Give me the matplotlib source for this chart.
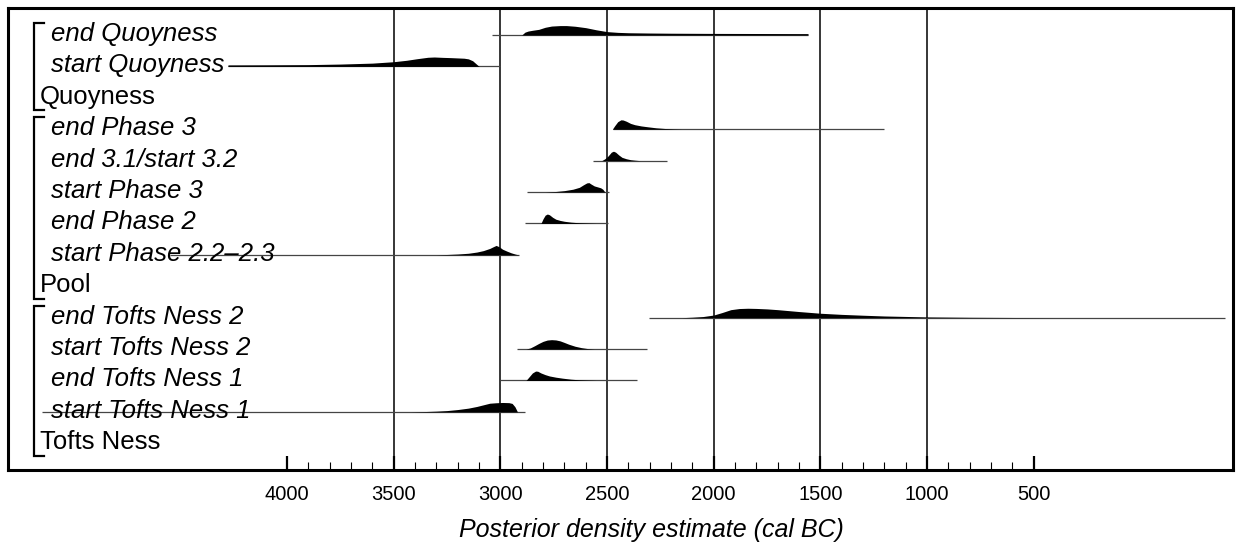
import matplotlib
matplotlib.use("Agg")
import matplotlib.pyplot as plt
import matplotlib.transforms as mtransforms

plt.rcParams['font.family'] = ['Liberation Sans', 'DejaVu Sans']

# ---------------- data ----------------
row_labels = ["end Quoyness", "start Quoyness", "Quoyness",
              "end Phase 3", "end 3.1/start 3.2", "start Phase 3", "end Phase 2",
              "start Phase 2.2\u20132.3", "Pool",
              "end Tofts Ness 2", "start Tofts Ness 2", "end Tofts Ness 1",
              "start Tofts Ness 1", "Tofts Ness"]
group_names = ["Quoyness", "Pool", "Tofts Ness"]
group_first = ["end Quoyness", "end Phase 3", "end Tofts Ness 2"]

major_ticks = [4000, 3500, 3000, 2500, 2000, 1500, 1000, 500]
grid_years = [3500, 3000, 2500, 2000, 1500, 1000]
xlabel = "Posterior density estimate (cal BC)"

end_quoyness_range = [3040, 1558]
end_quoyness_years = [2900, 2885, 2870, 2850, 2820, 2790, 2760, 2720, 2690, 2650, 2600, 2550,
                      2500, 2450, 2400, 2300, 2200, 2000, 1800, 1600, 1558]
end_quoyness_dens = [0, 0.3, 0.42, 0.5, 0.6, 0.82, 0.95, 1.0, 1.0, 0.93, 0.78, 0.55,
                     0.36, 0.28, 0.24, 0.21, 0.19, 0.17, 0.16, 0.15, 0.15]

start_quoyness_range = [4277, 3000]
start_quoyness_years = [4277, 4100, 3900, 3750, 3600, 3500, 3440, 3390, 3340, 3310, 3270,
                        3230, 3200, 3170, 3150, 3130, 3115, 3100]
start_quoyness_dens = [0.16, 0.17, 0.19, 0.25, 0.35, 0.5, 0.65, 0.82, 0.97, 1.0, 0.96,
                       0.93, 0.9, 0.87, 0.8, 0.6, 0.3, 0]

end_phase3_range = [2472, 1202]
end_phase3_years = [2475, 2465, 2450, 2435, 2425, 2410, 2390, 2370, 2340, 2310, 2270, 2230, 2190, 2150]
end_phase3_dens = [0, 0.35, 0.8, 1.0, 0.98, 0.85, 0.62, 0.48, 0.35, 0.26, 0.15, 0.08, 0.03, 0]

end31_start32_range = [2567, 2219]
end31_start32_years = [2525, 2510, 2495, 2480, 2470, 2460, 2445, 2430, 2410, 2390, 2370, 2345]
end31_start32_dens = [0, 0.2, 0.5, 0.9, 1.0, 0.9, 0.6, 0.35, 0.2, 0.1, 0.05, 0]

start_phase3_range = [2875, 2491]
start_phase3_years = [2790, 2740, 2700, 2660, 2630, 2610, 2595, 2585, 2575, 2560, 2545, 2530, 2520, 2510]
start_phase3_dens = [0, 0.06, 0.15, 0.3, 0.5, 0.78, 0.97, 1.0, 0.85, 0.65, 0.55, 0.45, 0.3, 0]

end_phase2_range = [2884, 2495]
end_phase2_years = [2810, 2800, 2790, 2780, 2770, 2755, 2740, 2720, 2700, 2670, 2630, 2590, 2550]
end_phase2_dens = [0, 0.5, 0.88, 1.0, 0.92, 0.65, 0.45, 0.32, 0.23, 0.14, 0.07, 0.03, 0]

start_phase22_range = [4550, 2912]
start_phase22_years = [3300, 3250, 3200, 3150, 3110, 3080, 3050, 3030, 3020, 3005, 2990, 2970, 2950, 2930, 2915]
start_phase22_dens = [0, 0.04, 0.09, 0.17, 0.3, 0.45, 0.68, 0.9, 1.0, 0.85, 0.6, 0.4, 0.22, 0.08, 0]

end_tn2_range = [2303, -397]
end_tn2_years = [2150, 2100, 2050, 2000, 1960, 1920, 1880, 1840, 1800, 1750, 1700, 1600, 1500,
                 1400, 1300, 1200, 1100, 1000, 800, 600, 400]
end_tn2_dens = [0, 0.05, 0.12, 0.28, 0.55, 0.85, 0.97, 1.0, 0.98, 0.93, 0.85, 0.65, 0.47,
                0.35, 0.26, 0.18, 0.13, 0.08, 0.04, 0.02, 0]

start_tn2_range = [2922, 2313]
start_tn2_years = [2880, 2860, 2840, 2820, 2800, 2780, 2760, 2740, 2720, 2700, 2680, 2650, 2620, 2590, 2560]
start_tn2_dens = [0, 0.12, 0.35, 0.6, 0.82, 0.96, 1.0, 0.97, 0.87, 0.7, 0.52, 0.3, 0.15, 0.05, 0]

end_tn1_range = [3001, 2359]
end_tn1_years = [2880, 2865, 2850, 2835, 2825, 2810, 2790, 2770, 2740, 2710, 2670, 2630, 2590, 2550]
end_tn1_dens = [0, 0.4, 0.8, 1.0, 0.98, 0.8, 0.62, 0.48, 0.35, 0.25, 0.14, 0.07, 0.03, 0]

start_tn1_range = [5148, 2884]
start_tn1_years = [3420, 3350, 3300, 3250, 3200, 3150, 3110, 3080, 3050, 3020, 2990, 2960, 2945, 2932, 2920]
start_tn1_dens = [0, 0.04, 0.08, 0.14, 0.25, 0.4, 0.58, 0.75, 0.92, 0.97, 1.0, 0.98, 0.9, 0.55, 0]

distributions = {
    "end Quoyness": (end_quoyness_range, end_quoyness_years, end_quoyness_dens),
    "start Quoyness": (start_quoyness_range, start_quoyness_years, start_quoyness_dens),
    "end Phase 3": (end_phase3_range, end_phase3_years, end_phase3_dens),
    "end 3.1/start 3.2": (end31_start32_range, end31_start32_years, end31_start32_dens),
    "start Phase 3": (start_phase3_range, start_phase3_years, start_phase3_dens),
    "end Phase 2": (end_phase2_range, end_phase2_years, end_phase2_dens),
    "start Phase 2.2\u20132.3": (start_phase22_range, start_phase22_years, start_phase22_dens),
    "end Tofts Ness 2": (end_tn2_range, end_tn2_years, end_tn2_dens),
    "start Tofts Ness 2": (start_tn2_range, start_tn2_years, start_tn2_dens),
    "end Tofts Ness 1": (end_tn1_range, end_tn1_years, end_tn1_dens),
    "start Tofts Ness 1": (start_tn1_range, start_tn1_years, start_tn1_dens),
}

# ---------------- figure ----------------
W, H = 1240, 544
fig = plt.figure(figsize=(W / 100, H / 100), dpi=100)
L, R, T, B = 8, 1233, 8, 470
ax = fig.add_axes([L / W, (H - B) / H, (R - L) / W, (B - T) / H])

ax.set_xlim(5308, -434)
ax.set_ylim(13.85, -0.86)

peak_h = 0.30
rows = {lab: i for i, lab in enumerate(row_labels)}

for yr in grid_years:
    ax.axvline(yr, color='black', lw=1.1, zorder=1)

for lab, (rng, yrs, dens) in distributions.items():
    r = rows[lab]
    ax.plot(rng, [r, r], color='#454545', lw=0.9, zorder=2, solid_capstyle='butt')
    ax.fill_between(yrs, [r] * len(yrs), [r - peak_h * d for d in dens],
                    color='black', lw=0, zorder=3)

trans = mtransforms.blended_transform_factory(ax.transAxes, ax.transData)
x_event = (51 - L) / (R - L)
x_group = (40 - L) / (R - L)
x_br = (34 - L) / (R - L)
x_br2 = (44 - L) / (R - L)

for lab in row_labels:
    r = rows[lab]
    if lab in group_names:
        ax.text(x_group, r + 0.19, lab, transform=trans, fontsize=18.5,
                va='baseline', ha='left', zorder=5)
    else:
        ax.text(x_event, r + 0.19, lab, transform=trans, fontsize=18.5,
                style='italic', va='baseline', ha='left', zorder=5)

for first, grp in zip(group_first, group_names):
    top = rows[first] - 0.38
    bot = rows[grp] + 0.40
    ax.plot([x_br2, x_br, x_br, x_br2], [top, top, bot, bot], transform=trans,
            color='black', lw=1.6, solid_joinstyle='miter', zorder=5, clip_on=False)

minor_ticks = [y for y in range(4000, 499, -100) if y not in major_ticks]
ax.set_xticks(major_ticks)
ax.set_xticklabels([str(t) for t in major_ticks])
ax.set_xticks(minor_ticks, minor=True)
ax.tick_params(axis='x', which='major', direction='in', length=10, width=1.6,
               pad=11, labelsize=14.5, top=False)
ax.tick_params(axis='x', which='minor', direction='in', length=5.5, width=0.8, top=False)
ax.tick_params(axis='y', left=False, labelleft=False)
ax.set_yticks([])

for sp in ax.spines.values():
    sp.set_linewidth(2.2)

fig.text(651 / W, (H - 537) / H, xlabel, fontsize=18, style='italic',
         ha='center', va='baseline')

fig.savefig("out.png", dpi=100)
